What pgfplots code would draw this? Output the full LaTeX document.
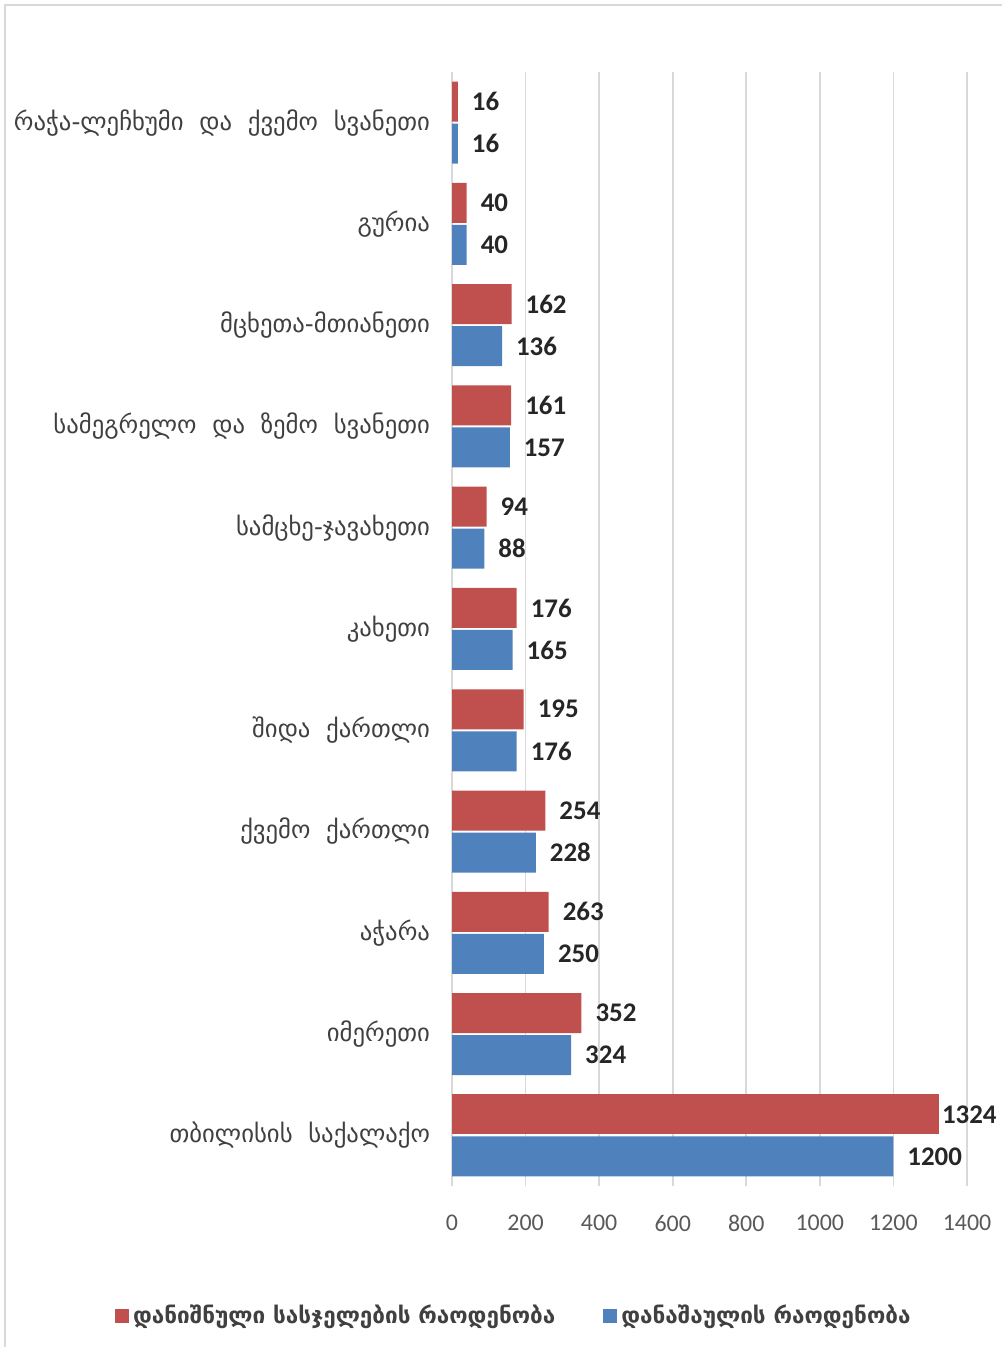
\documentclass[border=0pt]{standalone}
\usepackage{pgfplots}
\pgfplotsset{compat=1.18}
\usepackage{fontspec}
\setmainfont{DejaVu Sans}
\newfontfamily\numfont{Carlito}
\definecolor{cred}{HTML}{C0504D}
\definecolor{cblue}{HTML}{4F81BD}
\definecolor{gridc}{HTML}{D9D9D9}
\definecolor{txt}{HTML}{595959}
\definecolor{lbl}{HTML}{404040}
\definecolor{dlbl}{HTML}{262626}
\begin{document}
\begin{tikzpicture}
\useasboundingbox (0,0) rectangle (501bp,673.5bp);
\draw[gridc, line width=1bp] (2.5bp,0) -- (2.5bp,671bp) -- (501bp,671bp);
\begin{axis}[
  at={(226bp,80.5bp)}, anchor=south west,
  scale only axis, width=257.5bp, height=557bp,
  xbar, bar width=20bp,
  xmin=0, xmax=1400, ymin=-0.5, ymax=10.5,
  xtick={0,200,...,1400}, ytick={0,...,10},
  yticklabels={თბილისის\ \ საქალაქო, იმერეთი, აჭარა, ქვემო\ \ ქართლი, შიდა\ \ ქართლი, კახეთი, სამცხე-ჯავახეთი, სამეგრელო\ \ და\ \ ზემო\ \ სვანეთი, მცხეთა-მთიანეთი, გურია, რაჭა-ლეჩხუმი\ \ და\ \ ქვემო\ \ სვანეთი},
  axis line style={draw=none}, major tick length=0,
  xmajorgrids, grid style={gridc, line width=0.8bp},
  xticklabel style={font=\numfont\fontsize{12}{14}\selectfont, text=txt, yshift=-11bp},
  yticklabel style={font=\fontsize{12.4}{14}\selectfont, text=lbl, xshift=-7.5bp},
  /pgf/number format/assume math mode=true,
  /pgf/number format/1000 sep={},
  nodes near coords,
  every node near coord/.append style={font=\numfont\bfseries\fontsize{13.5}{15}\selectfont, text=dlbl, anchor=west, xshift=3.5bp,
    /pgf/number format/1000 sep={}},
  legend style={at={(0.122,0)}, anchor=center, yshift=-65bp, draw=none, fill=none,
    font=\bfseries\fontsize{11.3}{13}\selectfont, text=lbl, legend columns=2,
    /tikz/every even column/.append style={column sep=22bp}},
  legend image code/.code={\fill[#1] (0bp,-3.5bp) rectangle (7bp,3.5bp);},
]
\addplot[fill=cred, draw=none, bar shift=10.5bp] coordinates {
(352,1) (263,2) (254,3) (195,4) (176,5) (94,6) (161,7) (162,8) (40,9) (16,10)};
\addplot[fill=cblue, draw=none, bar shift=-10.5bp] coordinates {
(1200,0) (324,1) (250,2) (228,3) (176,4) (165,5) (88,6) (157,7) (136,8) (40,9) (16,10)};
\addplot[fill=cred, draw=none, bar shift=10.5bp, forget plot,
  every node near coord/.append style={xshift=-5.5bp}] coordinates {(1324,0)};
\legend{დანიშნული სასჯელების რაოდენობა, დანაშაულის რაოდენობა}
\end{axis}
\end{tikzpicture}
\end{document}
